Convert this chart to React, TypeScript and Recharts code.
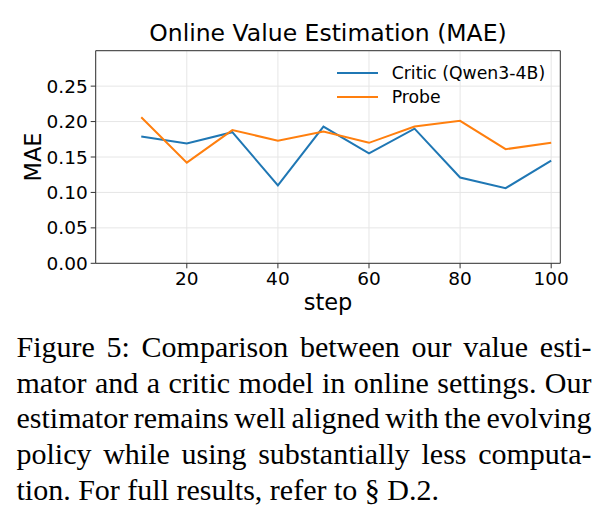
import React from 'react';
import { LineChart, Line, XAxis, YAxis, CartesianGrid, Legend, ReferenceLine } from 'recharts';

const steps = [10, 20, 30, 40, 50, 60, 70, 80, 90, 100];
const criticMae = [0.179, 0.169, 0.185, 0.11, 0.193, 0.155, 0.19, 0.121, 0.106, 0.145];
const probeMae = [0.206, 0.142, 0.188, 0.173, 0.186, 0.17, 0.193, 0.201, 0.161, 0.17];

const xTicks = [20, 40, 60, 80, 100];
const yTicks = [0, 0.05, 0.1, 0.15, 0.2, 0.25];

const captionLines = [
  'Figure 5: Comparison between our value esti-',
  'mator and a critic model in online settings. Our',
  'estimator remains well aligned with the evolving',
  'policy while using substantially less computa-',
  'tion. For full results, refer to \u00a7 D.2.',
];

const SANS = "'DejaVu Sans', sans-serif";
const SERIF = "'Liberation Serif', 'Times New Roman', serif";
const FRAME = '#333333';

const data = steps.map((step, i) => ({
  step,
  critic: criticMae[i],
  probe: probeMae[i],
}));

// Plain line + label legend, no box around it
const LegendContent = ({ payload }: any) => (
  <div style={{ fontFamily: SANS, fontSize: 17.3, color: '#000' }}>
    {(payload || []).map((entry: any) => (
      <div key={entry.value} style={{ display: 'flex', alignItems: 'center', height: 24.2 }}>
        <svg width={41} height={4} style={{ display: 'block' }}>
          <line x1={0} y1={2} x2={41} y2={2} stroke={entry.color} strokeWidth={2} />
        </svg>
        <span style={{ marginLeft: 14, whiteSpace: 'nowrap' }}>{entry.value}</span>
      </div>
    ))}
  </div>
);

const App: React.FC = () => {
  return (
    <div style={{ position: 'absolute', left: 0, top: 0, width: 606, height: 512, background: '#fff' }}>
      <LineChart
        width={606}
        height={320}
        data={data}
        margin={{ top: 50.7, right: 45.7, left: 0, bottom: 0 }}
      >
        <CartesianGrid stroke="#e6e6e6" strokeWidth={1} />
        <XAxis
          dataKey="step"
          type="number"
          domain={[0, 102]}
          ticks={xTicks}
          height={56.7}
          stroke={FRAME}
          tickSize={5}
          tickMargin={4}
          tick={{ fill: '#000', fontSize: 18.5, fontFamily: SANS }}
        />
        <YAxis
          type="number"
          domain={[0, 0.3]}
          ticks={yTicks}
          width={95.7}
          stroke={FRAME}
          tickSize={5}
          tickMargin={3}
          tickFormatter={(v: number) => v.toFixed(2)}
          tick={{ fill: '#000', fontSize: 18.5, fontFamily: SANS }}
        />
        <ReferenceLine y={0.3} stroke={FRAME} strokeWidth={1} />
        <ReferenceLine x={102} stroke={FRAME} strokeWidth={1} />
        <Legend
          layout="horizontal"
          verticalAlign="middle"
          align="center"
          content={<LegendContent />}
          wrapperStyle={{ top: 60.7, left: 336.7, width: 220, margin: 0 }}
        />
        <Line
          type="linear"
          dataKey="critic"
          name="Critic (Qwen3-4B)"
          stroke="#1f77b4"
          strokeWidth={2}
          dot={false}
          isAnimationActive={false}
        />
        <Line
          type="linear"
          dataKey="probe"
          name="Probe"
          stroke="#ff7f0e"
          strokeWidth={2}
          dot={false}
          isAnimationActive={false}
        />
      </LineChart>

      <svg
        width={606}
        height={320}
        style={{ position: 'absolute', left: 0, top: 0, pointerEvents: 'none' }}
      >
        <text x={328} y={41} textAnchor="middle" fontFamily={SANS} fontSize={23.5} fill="#000">
          Online Value Estimation (MAE)
        </text>
        <text
          x={40.5}
          y={157}
          textAnchor="middle"
          fontFamily={SANS}
          fontSize={22.5}
          fill="#000"
          transform="rotate(-90 40.5 157)"
        >
          MAE
        </text>
        <text x={328} y={310} textAnchor="middle" fontFamily={SANS} fontSize={22.5} fill="#000">
          step
        </text>
      </svg>

      <div
        style={{
          position: 'absolute',
          left: 16.5,
          top: 329,
          width: 575,
          fontFamily: SERIF,
          fontSize: 30,
          lineHeight: '35.7px',
          color: '#000',
        }}
      >
        {captionLines.map((line, i) => {
          const last = i === captionLines.length - 1;
          // justified lines start from tightened spacing and get stretched to the full width
          return (
            <div
              key={i}
              style={{
                textAlign: last ? 'left' : 'justify',
                textAlignLast: last ? 'left' : 'justify',
                wordSpacing: last ? 0 : -3,
                whiteSpace: 'nowrap',
              }}
            >
              {line}
            </div>
          );
        })}
      </div>
    </div>
  );
};

export default App;
